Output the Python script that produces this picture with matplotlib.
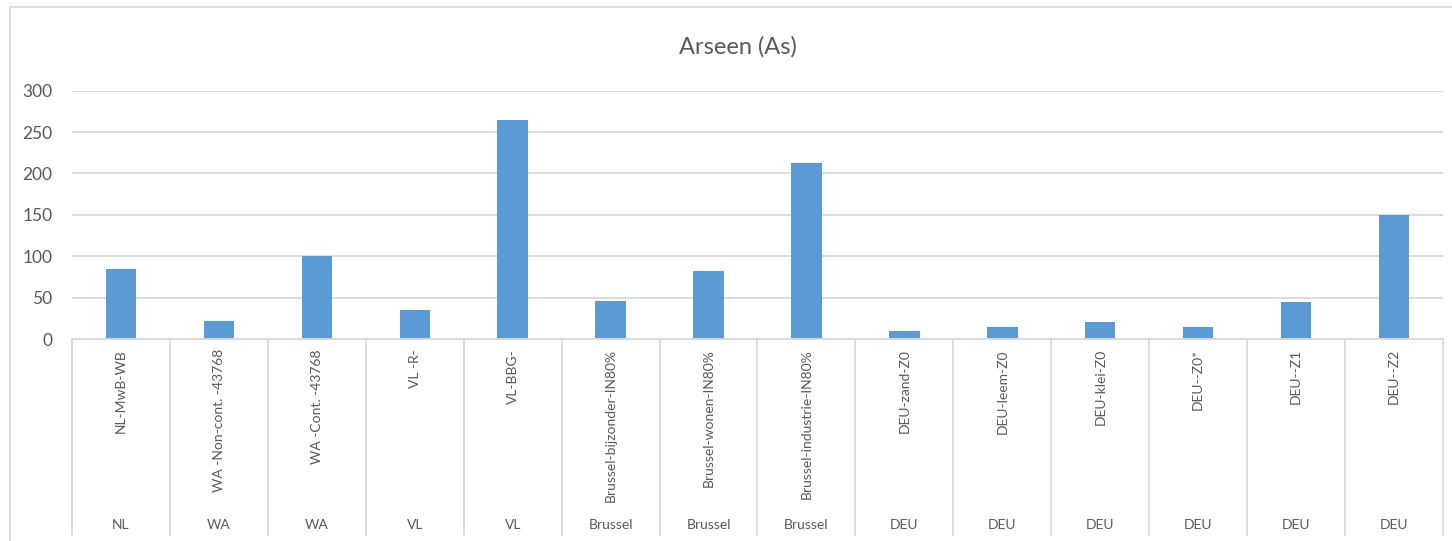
import matplotlib

matplotlib.use('Agg')
import matplotlib.pyplot as plt
from matplotlib.lines import Line2D

categories = ['NL-MwB-WB', 'WA -Non-cont. -43768', 'WA -Cont. -43768', 'VL -R-', 'VL-BBG-',
              'Brussel-bijzonder-IN80%', 'Brussel-wonen-IN80%', 'Brussel-industrie-IN80%',
              'DEU-zand-Z0', 'DEU-leem-Z0', 'DEU-klei-Z0', 'DEU--Z0*', 'DEU--Z1', 'DEU--Z2']
groups = ['NL', 'WA', 'WA', 'VL', 'VL', 'Brussel', 'Brussel', 'Brussel',
          'DEU', 'DEU', 'DEU', 'DEU', 'DEU', 'DEU']
values = [84, 22, 100, 35, 265, 46, 82, 213, 10, 15, 20, 15, 45, 150]
yticks = [0, 50, 100, 150, 200, 250, 300]

W, H = 1452, 541
font = 'Lato'
txt = '#595959'
grid = '#D9D9D9'

fig = plt.figure(figsize=(W / 100, H / 100), dpi=100)

# chart area border (top and left visible)
fig.add_artist(Line2D([10 / W, 1.0], [1 - 7 / H, 1 - 7 / H], color=grid, lw=1.2))
fig.add_artist(Line2D([10 / W, 10 / W], [0, 1 - 7 / H], color=grid, lw=1.2))

left, right, top, base = 72, 1443, 90.7, 339
ax = fig.add_axes([left / W, (H - base) / H, (right - left) / W, (base - top) / H])
n = len(values)
x = list(range(n))
ax.bar(x, values, width=0.31, color='#5B9BD5', zorder=3)
ax.set_xlim(-0.5, n - 0.5)
ax.set_ylim(0, 300)
ax.set_yticks(yticks)
ax.yaxis.grid(True, color=grid, lw=1.3, zorder=0)
for s in ax.spines.values():
    s.set_visible(False)
ax.tick_params(axis='y', length=0, pad=14, labelsize=12.5, labelcolor=txt)
for lab in ax.get_yticklabels():
    lab.set_family(font)
ax.set_xticks([])

ah = base - top
tr = ax.get_xaxis_transform()
# axis baseline and category separators
ax.plot([-0.5, n - 0.5], [0, 0], transform=tr, color=grid, lw=1.3, clip_on=False, zorder=4)
for b in range(n + 1):
    ax.plot([b - 0.5, b - 0.5], [0, -(535 - base) / ah], transform=tr, color=grid, lw=1.3,
            clip_on=False)

for i in x:
    ax.text(i, -(349 - base) / ah, categories[i], rotation=90, ha='center', va='top',
            transform=tr, fontsize=10, color=txt, family=font)
    ax.text(i, -(525 - base) / ah, groups[i], ha='center', va='center',
            transform=tr, fontsize=10, color=txt, family=font)

fig.text(738 / W, 1 - 47 / H, 'Arseen (As)', ha='center', va='center', fontsize=17,
         color=txt, family=font)

fig.savefig('out.png', dpi=100)
